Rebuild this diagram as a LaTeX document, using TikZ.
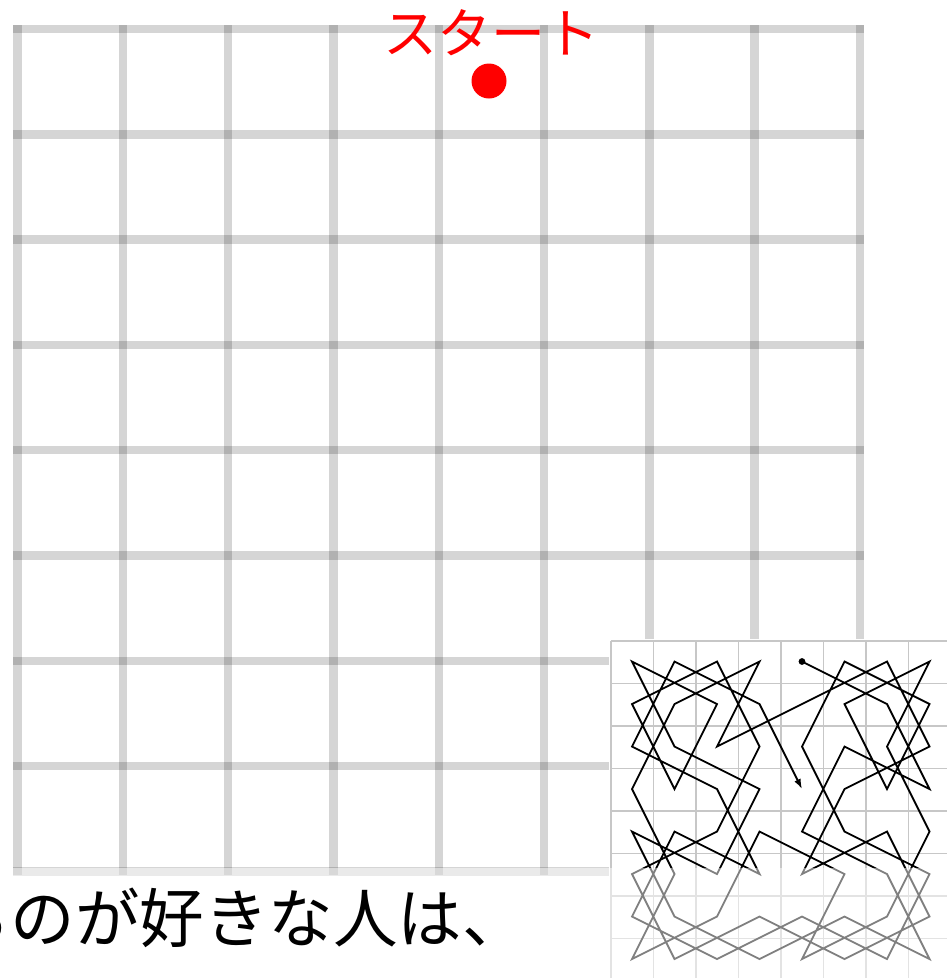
\documentclass[tikz,border=0pt]{standalone}
\usepackage{fontspec}
\newfontfamily\jp{Noto Sans CJK JP}
\usetikzlibrary{arrows.meta}
\tikzset{
  maingrid/.style={line width=8.4pt, draw=black, draw opacity=0.165, line cap=butt},
  insetgrid/.style={line width=1.5pt, draw=black!22},
  tour/.style={line width=1.8pt, draw=black, line join=miter, -{Latex[length=10pt,width=7pt]}},
  startlabel/.style={text=red, font=\jp\fontsize{54}{60}\selectfont, inner sep=0pt},
  bottomtext/.style={text=black, font=\jp\fontsize{64.5}{70}\selectfont, inner sep=0pt, anchor=west}
}
\begin{document}
\begin{tikzpicture}[x=1pt,y=-1pt]
\useasboundingbox (0,0) rectangle (947,978);
\fill[white] (0,0) rectangle (947,978);
% main 8x8 grid
\foreach \i in {0,...,8} {
  \draw[maingrid] ({17.5+105.3*\i},25) -- ({17.5+105.3*\i},875);
  \draw[maingrid] (13,{29+105.3*\i}) -- (864,{29+105.3*\i});
}
% start label and dot
\node[startlabel] (start) at (491,33) {スタート};
\fill[red] (489,81) circle[radius=17.5];
\coordinate (startdot) at (489,81);
% inset
\fill[white] (609,639) rectangle (960,990);
\foreach \k in {0,...,8} {
  \draw[insetgrid] ({611+42.5*\k},641) -- ({611+42.5*\k},990);
  \draw[insetgrid] (611,{641+42.5*\k}) -- (960,{641+42.5*\k});
}
\foreach \c in {0,...,7} {
  \foreach \r in {0,...,7} {
    \coordinate (q\c\r) at ({632+42.5*\c},{661.5+42.5*\r});
  }
}
\draw[tour] (q40) -- (q61) -- (q73) -- (q52) -- (q44) -- (q65) -- (q77) -- (q56)
  -- (q37) -- (q16) -- (q04) -- (q25) -- (q33) -- (q12) -- (q00) -- (q21)
  -- (q13) -- (q01) -- (q20) -- (q32) -- (q24) -- (q05) -- (q17) -- (q36)
  -- (q57) -- (q76) -- (q64) -- (q45) -- (q53) -- (q72) -- (q60) -- (q41)
  -- (q22) -- (q30) -- (q11) -- (q03) -- (q15) -- (q07) -- (q26) -- (q34)
  -- (q55) -- (q47) -- (q66) -- (q74) -- (q62) -- (q70) -- (q51) -- (q63)
  -- (q71) -- (q50) -- (q42) -- (q54) -- (q75) -- (q67) -- (q46) -- (q27)
  -- (q06) -- (q14) -- (q35) -- (q23) -- (q02) -- (q10) -- (q31) -- (q43);
\fill[black] (q40) circle[radius=3.4];
% light veil over the lower band
\fill[white, fill opacity=0.5] (0,868) rectangle (947,978);
% bottom caption
\node[bottomtext] (caption) at (-54,918) {るのが好きな人は、};
\end{tikzpicture}
\end{document}
